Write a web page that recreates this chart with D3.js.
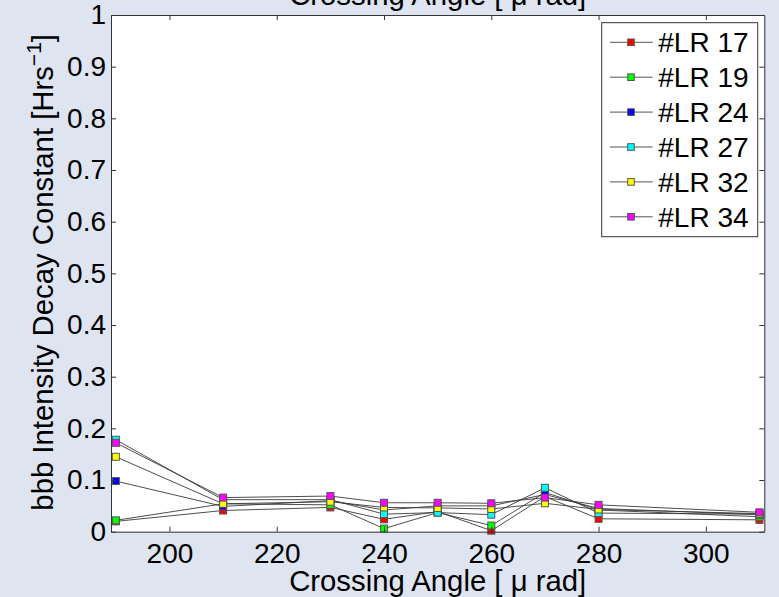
<!DOCTYPE html>
<html>
<head>
<meta charset="utf-8">
<script src="https://cdn.jsdelivr.net/npm/d3@7"></script>
<style>
  html, body { margin: 0; padding: 0; background: #dee4f0; overflow: hidden; }
  svg { display: block; }
  text { font-family: "Liberation Sans", Arial, Helvetica, sans-serif; fill: #000; }
</style>
</head>
<body>
<script>
// Crossing angles (micro-rad) at which the decay constant was measured
const crossingAngles = [190, 210, 230, 240, 250, 260, 270, 280, 310];

// Decay constant [1/Hrs] per luminosity run
const lr17 = [0.020, 0.041, 0.047, 0.024, 0.039, 0.002, 0.068, 0.025, 0.023];
const lr19 = [0.022, 0.054, 0.052, 0.006, 0.037, 0.012, 0.076, 0.042, 0.029];
const lr24 = [0.098, 0.049, 0.060, 0.042, 0.050, 0.050, 0.072, 0.045, 0.033];
const lr27 = [0.178, 0.062, 0.062, 0.034, 0.037, 0.033, 0.085, 0.036, 0.034];
const lr32 = [0.145, 0.054, 0.058, 0.047, 0.046, 0.044, 0.055, 0.043, 0.035];
const lr34 = [0.172, 0.066, 0.069, 0.056, 0.056, 0.055, 0.066, 0.052, 0.0375];

const seriesNames = ["#LR 17", "#LR 19", "#LR 24", "#LR 27", "#LR 32", "#LR 34"];
const seriesValues = [lr17, lr19, lr24, lr27, lr32, lr34];
const seriesColors = ["#ff0000", "#00ff00", "#0000ff", "#00ffff", "#ffff00", "#ff00ff"];

const xTicks = [200, 220, 240, 260, 280, 300];
const yTicks = [0, 0.1, 0.2, 0.3, 0.4, 0.5, 0.6, 0.7, 0.8, 0.9, 1];
const yTickLabels = ["0", "0.1", "0.2", "0.3", "0.4", "0.5", "0.6", "0.7", "0.8", "0.9", "1"];

const xDomain = [189.1, 310.9];
const yDomain = [0, 1];

const W = 779, H = 597;
const plot = { left: 111, right: 764.3, top: 15, bottom: 531.7 };
const fontSize = 28;
const labelSize = 29.3;
const axisColor = "#333";

const svg = d3.select("body").append("svg")
  .attr("width", W).attr("height", H);

svg.append("rect").attr("width", W).attr("height", H).attr("fill", "#dee4f0");

const x = d3.scaleLinear().domain(xDomain).range([plot.left, plot.right]);
const y = d3.scaleLinear().domain(yDomain).range([plot.bottom, plot.top]);

// plot area
svg.append("rect")
  .attr("x", plot.left).attr("y", plot.top)
  .attr("width", plot.right - plot.left).attr("height", plot.bottom - plot.top)
  .attr("fill", "#fff");

// series: line then square markers, later runs on top
const line = d3.line().x((d, i) => x(crossingAngles[i])).y(d => y(d));
const ms = 7;

const plotG = svg.append("g");
seriesValues.forEach((vals, si) => {
  const g = plotG.append("g");
  g.append("path")
    .datum(vals)
    .attr("d", line)
    .attr("fill", "none")
    .attr("stroke", "#3a3a3a")
    .attr("stroke-width", 0.9);
  g.selectAll("rect")
    .data(vals)
    .enter().append("rect")
    .attr("x", (d, i) => x(crossingAngles[i]) - ms / 2)
    .attr("y", d => y(d) - ms / 2)
    .attr("width", ms).attr("height", ms)
    .attr("fill", seriesColors[si])
    .attr("stroke", "#555")
    .attr("stroke-width", 1);
});

// axes with inward ticks on all four sides
function styleAxis(g) {
  g.selectAll("path.domain").attr("stroke", axisColor).attr("stroke-width", 1);
  g.selectAll(".tick line").attr("stroke", axisColor).attr("stroke-width", 1);
  g.selectAll(".tick text").attr("font-size", fontSize).attr("font-family", null).attr("fill", "#000");
}

const xAxis = d3.axisBottom(x).tickValues(xTicks).tickFormat(d3.format("d"))
  .tickSizeInner(-5).tickSizeOuter(0).tickPadding(11.5);
svg.append("g").attr("transform", `translate(0,${plot.bottom})`).call(xAxis).call(styleAxis);

const xAxisTop = d3.axisTop(x).tickValues(xTicks).tickFormat("")
  .tickSizeInner(-5).tickSizeOuter(0);
svg.append("g").attr("transform", `translate(0,${plot.top})`).call(xAxisTop).call(styleAxis);

const yAxis = d3.axisLeft(y).tickValues(yTicks).tickFormat((d, i) => yTickLabels[i])
  .tickSizeInner(-5).tickSizeOuter(0).tickPadding(5);
svg.append("g").attr("transform", `translate(${plot.left},0)`).call(yAxis).call(styleAxis);

const yAxisRight = d3.axisRight(y).tickValues(yTicks).tickFormat("")
  .tickSizeInner(-5).tickSizeOuter(0);
svg.append("g").attr("transform", `translate(${plot.right},0)`).call(yAxisRight).call(styleAxis);

// titles
const cx = (plot.left + plot.right) / 2;
svg.append("text")
  .attr("x", cx).attr("y", 5)
  .attr("text-anchor", "middle").attr("font-size", labelSize)
  .text("Crossing Angle [ \u03bc rad]");

svg.append("text")
  .attr("x", cx).attr("y", 591)
  .attr("text-anchor", "middle").attr("font-size", labelSize)
  .text("Crossing Angle [ \u03bc rad]");

const yl = svg.append("text")
  .attr("transform", `translate(53,${(plot.top + plot.bottom) / 2 - 1}) rotate(-90)`)
  .attr("text-anchor", "middle").attr("font-size", labelSize);
yl.append("tspan").text("bbb Intensity Decay Constant [Hrs");
yl.append("tspan").attr("font-size", 21).attr("dy", -12).text("\u22121");
yl.append("tspan").attr("dy", 12).text("]");

// legend
const leg = { x: 601.7, y: 22.7, w: 156, h: 214, row0: 42.3, rowStep: 34.9 };
svg.append("rect")
  .attr("x", leg.x).attr("y", leg.y).attr("width", leg.w).attr("height", leg.h)
  .attr("fill", "#fff").attr("stroke", axisColor).attr("stroke-width", 1);

seriesNames.forEach((name, i) => {
  const cy = leg.row0 + i * leg.rowStep;
  const g = svg.append("g");
  g.append("line")
    .attr("x1", 610).attr("x2", 652.7).attr("y1", cy).attr("y2", cy)
    .attr("stroke", "#555").attr("stroke-width", 1);
  g.append("rect")
    .attr("x", 631 - 3.3).attr("y", cy - 3.3).attr("width", 6.6).attr("height", 6.6)
    .attr("fill", seriesColors[i]).attr("stroke", "#555").attr("stroke-width", 1);
  g.append("text")
    .attr("x", 658.3).attr("y", cy + 10)
    .attr("font-size", fontSize)
    .text(name);
});
</script>
</body>
</html>
